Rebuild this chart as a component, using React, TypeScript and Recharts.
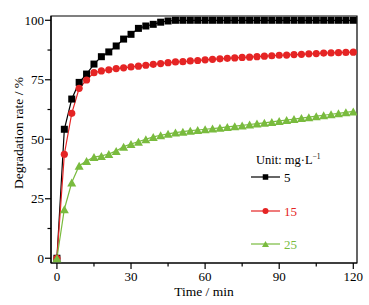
import React from 'react';
import { LineChart, Line, XAxis, YAxis, ReferenceArea, Label } from 'recharts';

const times = [0, 3, 6, 9, 12, 15, 18, 21, 24, 27, 30, 33, 36, 39, 42, 45, 48, 51, 54, 57, 60, 63, 66, 69, 72, 75, 78, 81, 84, 87, 90, 93, 96, 99, 102, 105, 108, 111, 114, 117, 120];
const conc5 = [0, 54.2, 66.9, 73.9, 77.4, 81.6, 84.7, 86.7, 89.2, 92.1, 94.1, 96.6, 97.6, 98.3, 99.2, 99.7, 100, 100, 100, 100, 100, 100, 100, 100, 100, 100, 100, 100, 100, 100, 100, 100, 100, 100, 100, 100, 100, 100, 100, 100, 100];
const conc15 = [0, 43.7, 60.9, 71.4, 74.9, 78.0, 78.7, 79.2, 79.7, 80.0, 80.4, 80.7, 81.1, 81.5, 81.8, 82.2, 82.5, 82.6, 82.9, 83.1, 83.4, 83.6, 83.8, 84.0, 84.2, 84.4, 84.5, 84.7, 84.9, 85.1, 85.3, 85.4, 85.6, 85.7, 85.9, 86.0, 86.2, 86.3, 86.4, 86.5, 86.6];
const conc25 = [0, 20.6, 31.8, 38.9, 40.9, 42.5, 43.0, 43.8, 45.1, 46.9, 48.0, 49.0, 50.0, 51.0, 51.7, 52.3, 52.8, 53.2, 53.6, 53.9, 54.2, 54.5, 54.8, 55.2, 55.5, 55.8, 56.2, 56.6, 56.9, 57.3, 57.7, 58.1, 58.5, 58.9, 59.3, 59.7, 60.1, 60.5, 60.9, 61.3, 61.7];

const xTicks = [0, 15, 30, 45, 60, 75, 90, 105, 120];
const yTicks = [0, 12.5, 25, 37.5, 50, 62.5, 75, 87.5, 100];
const xMajorStep = 30;
const yMajorStep = 25;
const legendTitle = 'Unit: mg·L';
const seriesLabels = ['5', '15', '25'];

const FONT = 'Liberation Serif, Times New Roman, Times, serif';
const BLACK = '#000000';
const RED = '#e52424';
const GREEN = '#79bb3e';

const data = times.map((t, i) => ({ t, s5: conc5[i], s15: conc15[i], s25: conc25[i] }));

const XTick = (props: any) => {
  const { x, y, payload } = props;
  const major = payload.value % xMajorStep === 0;
  return (
    <g>
      <line x1={x} y1={y} x2={x} y2={y + (major ? 6 : 3.5)} stroke="#000" strokeWidth={1.2} />
      {major && (
        <text x={x} y={y + 18} textAnchor="middle" style={{ fontFamily: FONT, fontSize: 13 }} fill="#000">
          {payload.value}
        </text>
      )}
    </g>
  );
};

const YTick = (props: any) => {
  const { x, y, payload } = props;
  const major = payload.value % yMajorStep === 0;
  return (
    <g>
      <line x1={x} y1={y} x2={x - (major ? 6 : 3.5)} y2={y} stroke="#000" strokeWidth={1.2} />
      {major && (
        <text x={x - 7} y={y} dy="0.35em" textAnchor="end" style={{ fontFamily: FONT, fontSize: 13 }} fill="#000">
          {payload.value}
        </text>
      )}
    </g>
  );
};

const Square = (props: any) => {
  const { cx, cy, fill, size = 7 } = props;
  if (cx == null || cy == null) return null;
  return <rect x={cx - size / 2} y={cy - size / 2} width={size} height={size} fill={fill} />;
};
const Circle = (props: any) => {
  const { cx, cy, fill, r = 3.6 } = props;
  if (cx == null || cy == null) return null;
  return <circle cx={cx} cy={cy} r={r} fill={fill} />;
};
const Triangle = (props: any) => {
  const { cx, cy, fill, w = 9, h = 8 } = props;
  if (cx == null || cy == null) return null;
  return <polygon points={`${cx - w / 2},${cy + h / 2} ${cx + w / 2},${cy + h / 2} ${cx},${cy - h / 2}`} fill={fill} />;
};

const series = [
  { key: 's5', color: BLACK, shape: Square, label: seriesLabels[0] },
  { key: 's15', color: RED, shape: Circle, label: seriesLabels[1] },
  { key: 's25', color: GREEN, shape: Triangle, label: seriesLabels[2] },
];

const legendY = [177, 211, 244];

export default function App() {
  return (
    <div style={{ position: 'absolute', left: 0, top: 0, width: 369, height: 305, fontFamily: FONT }}>
      <LineChart width={369} height={305} data={data} margin={{ top: 16, right: 12, left: 0, bottom: 0 }}>
        <XAxis
          dataKey="t"
          type="number"
          domain={[-2.4, 121.5]}
          allowDataOverflow
          ticks={xTicks}
          interval={0}
          height={42}
          tickSize={0}
          tickMargin={0}
          tickLine={false}
          tick={<XTick />}
          stroke="#000"
          strokeWidth={1.2}
        >
          <Label
            content={(p: any) => {
              const vb = p.viewBox;
              return (
                <text x={vb.x + vb.width / 2} y={vb.y + 33} textAnchor="middle" style={{ fontFamily: FONT, fontSize: 13.5 }} fill="#000">
                  Time / min
                </text>
              );
            }}
          />
        </XAxis>
        <YAxis
          type="number"
          domain={[-2, 101.8]}
          allowDataOverflow
          ticks={yTicks}
          interval={0}
          width={51}
          tickSize={0}
          tickMargin={0}
          tickLine={false}
          tick={<YTick />}
          stroke="#000"
          strokeWidth={1.2}
        >
          <Label
            content={() => (
              <text
                x={23}
                y={133}
                transform="rotate(-90 23 133)"
                textAnchor="middle"
                style={{ fontFamily: FONT, fontSize: 13.5 }}
                fill="#000"
              >
                Degradation rate / %
              </text>
            )}
          />
        </YAxis>
        <ReferenceArea x1={-2.4} x2={121.5} y1={-2} y2={101.8} fill="none" stroke="#000" strokeWidth={1.2} ifOverflow="visible" />
        {series.map((s) => {
          const Shape = s.shape;
          return (
            <Line
              key={s.key}
              dataKey={s.key}
              stroke={s.color}
              strokeWidth={1.2}
              isAnimationActive={false}
              dot={(p: any) => <Shape key={`${s.key}-${p.index}`} cx={p.cx} cy={p.cy} fill={s.color} />}
              activeDot={false}
            />
          );
        })}
      </LineChart>
      <svg width={369} height={305} style={{ position: 'absolute', left: 0, top: 0, pointerEvents: 'none' }}>
        <text x={256} y={164} style={{ fontFamily: FONT, fontSize: 12.5 }} fill="#000">
          {legendTitle}
          <tspan dy={-5} style={{ fontSize: 7.5 }}>−1</tspan>
        </text>
        {series.map((s, i) => {
          const Shape = s.shape;
          const y = legendY[i];
          return (
            <g key={s.key}>
              <line x1={251} y1={y} x2={280} y2={y} stroke={s.color} strokeWidth={1.2} />
              <Shape cx={265.5} cy={y} fill={s.color} size={5.5} r={3} w={7} h={6} />
              <text x={284} y={y} dy="0.35em" style={{ fontFamily: FONT, fontSize: 13 }} fill={s.color}>
                {s.label}
              </text>
            </g>
          );
        })}
      </svg>
    </div>
  );
}
